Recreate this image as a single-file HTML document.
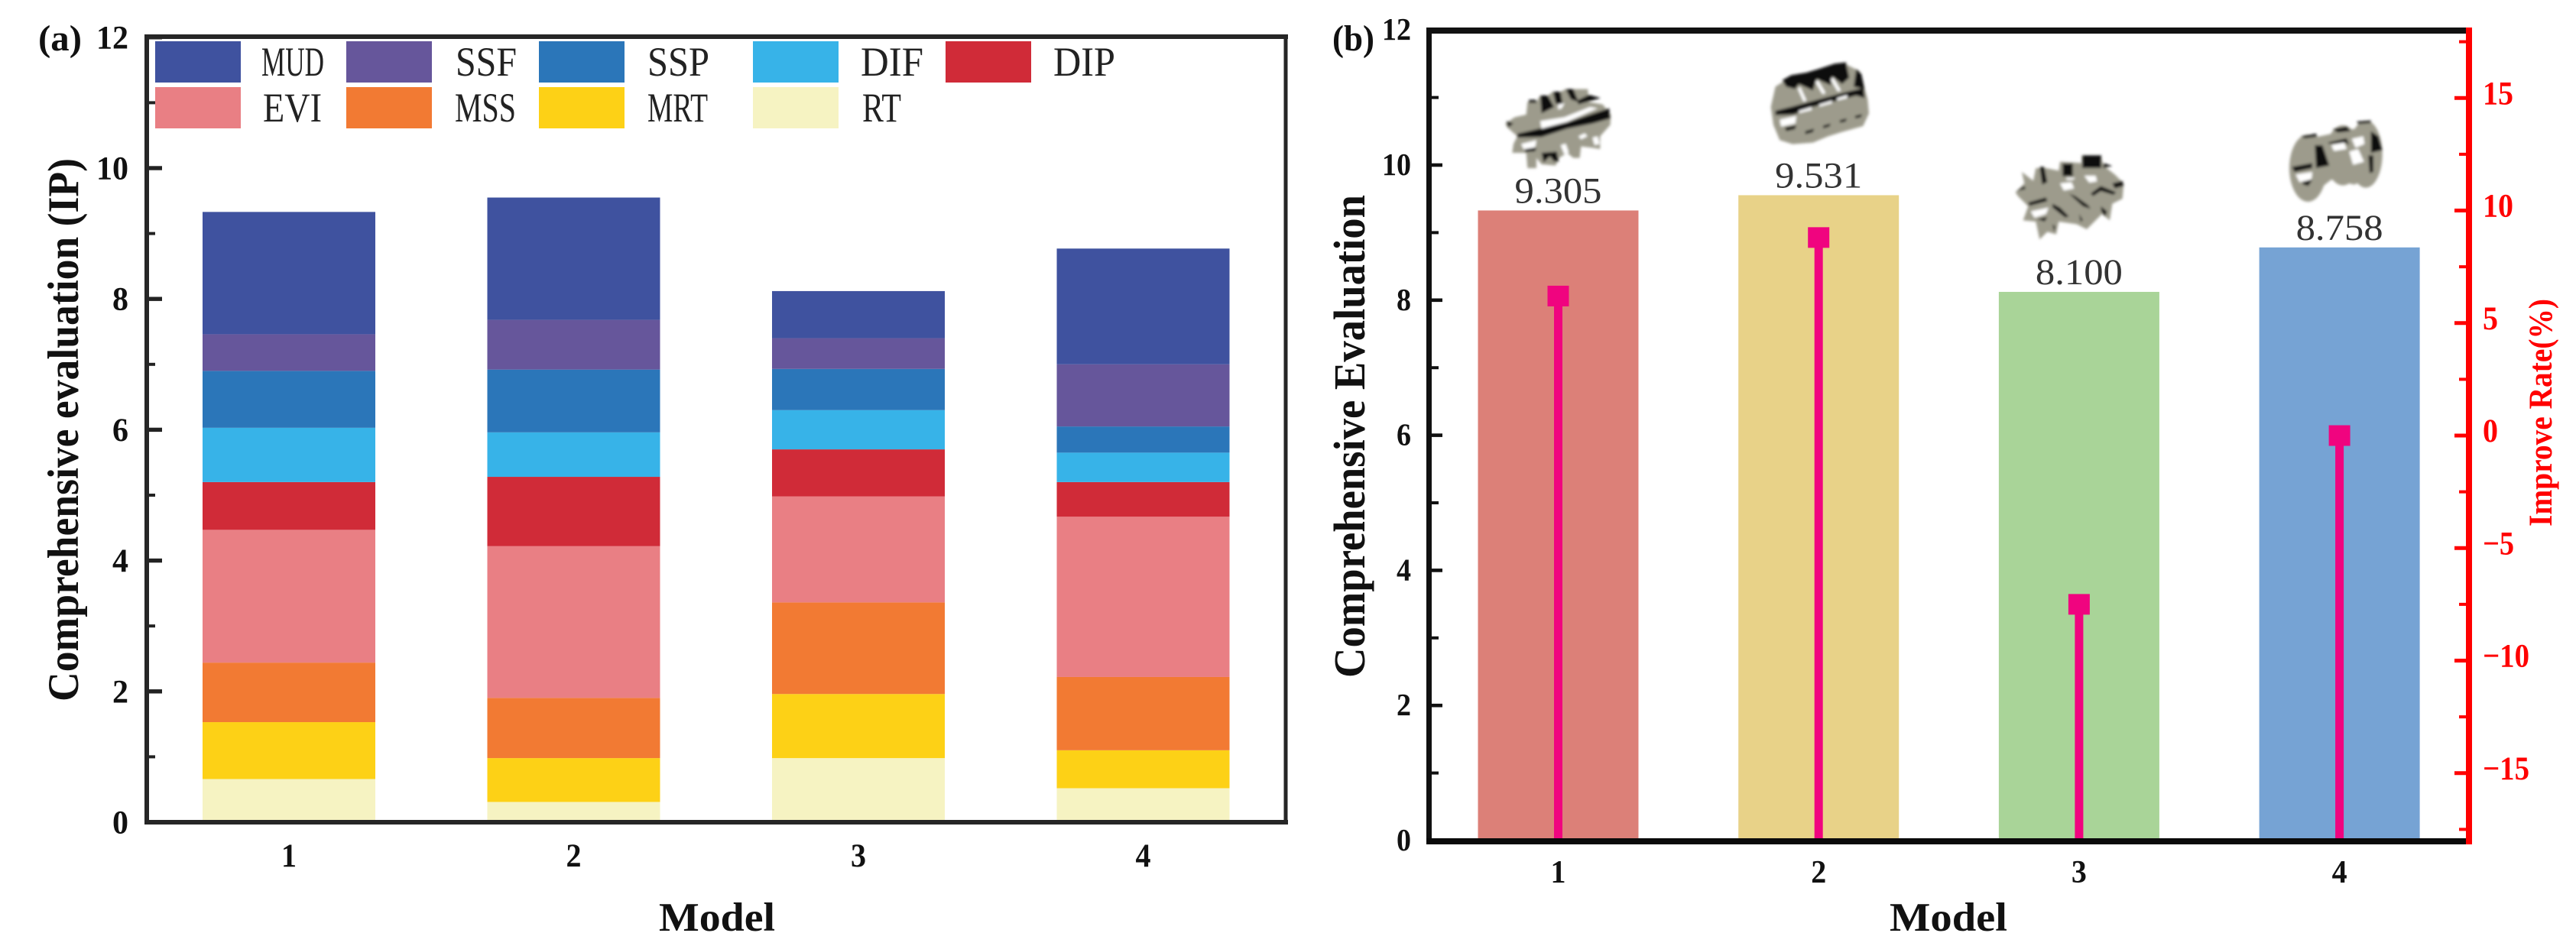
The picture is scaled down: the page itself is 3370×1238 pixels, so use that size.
<!DOCTYPE html>
<html lang="en">
<head>
<meta charset="utf-8">
<title>Comprehensive evaluation by model</title>
<style>
html,body{margin:0;padding:0;background:#fff;width:3370px;height:1238px;overflow:hidden}
svg{display:block}
text{font-family:"Liberation Serif","DejaVu Serif",serif}
</style>
</head>
<body>
<svg id="figure" xmlns="http://www.w3.org/2000/svg" width="3370" height="1238" viewBox="0 0 3370 1238">
<defs><filter id="soft" x="-5%" y="-5%" width="110%" height="110%"><feGaussianBlur stdDeviation="5.5"/></filter></defs>
<g id="panelA"></g>
<g id="panelB"></g>

<g transform="translate(1950,100) scale(.3333)" filter="url(#soft)">
<path fill="#9d9b8c" d="M58 185 95 160 140 150 145 100 180 100 195 75 225 75 245 60 275 60 295 50 325 50 350 50 382 50 385 100 440 110 472 150 470 190 430 235 430 285 400 280 355 275 350 320 325 320 300 300 270 320 255 350 200 345 180 320 180 360 145 360 140 300 85 300 90 265 105 235 65 200Z"/>
<path fill="#0c0c0c" d="M105 225 190 205 300 180 465 125 470 165 400 185 300 205 200 238 105 240Z"/>
<path fill="#0c0c0c" d="M195 75h30l25 45-50 25zM245 60h30l10 60-30-15zM295 50h30l20 50-30-10zM385 72 432 85 345 110 340 95zM150 92h30v12h-30zM62 175l28 10-20 15zM135 285l45-6-5 15-40 3zM200 300l60-5 8 40-20-2-15-20-25 25z"/>
<path fill="#fff" d="M195 175 290 160 390 120 420 125 300 178 200 205ZM120 265 180 250 175 278 130 286ZM265 110l25-5-10 20-15 5z"/>
<path fill="#fff" d="M88 110l20-8 6 35-18 2zM345 235l25-12 10 12-25 12zM400 240l20-5 8 30-20 5zM275 270l20-6 12 35-18 6z"/>
</g>

<g transform="translate(2300,70) scale(.3333)" filter="url(#soft)">
<path fill="#9d9b8c" d="M50 210 68 130 100 110 340 40 400 70 430 180 435 235 412 285 330 308 275 325 215 350 135 356 85 340 60 280Z"/>
<path fill="#0b0b0b" d="M95 105 130 85 190 75 240 60 300 40 345 35 358 95 330 120 290 90 285 125 230 100 215 145 160 120 145 140 110 130ZM385 60 405 80 418 140 375 130Z"/>
<path fill="#0b0b0b" d="M68 225 135 208 220 185 350 150 415 135 418 175 385 165 350 175 290 190 215 210 140 240 68 242Z"/>
<path fill="#fff" d="M85 260 150 245 146 275 90 287ZM165 130l25 55-12 4-22-50zM235 105l30 50-12 5-28-48zM295 95l30 50-12 5-28-48zM160 225l50-15 0 12-50 12zM240 200l50-15 0 10-50 14zM310 175l40-12 0 12-40 10z"/>
<path fill="#0b0b0b" d="M105 290l45-8-5 15-35 8zM185 305l35-10-5 14-30 8zM255 283l30-8-5 12-25 7zM320 262l28-7-4 12-22 5zM380 245l28-7-4 12-22 5z"/>
</g>

<g transform="translate(2620,190) scale(.3333)" filter="url(#soft)">
<path fill="#9d9b8c" d="M50 185 85 150 75 105 120 140 130 90 170 90 220 100 225 65 310 70 310 40 385 40 395 80 440 115 475 150 470 210 430 230 420 295 390 270 330 330 290 310 220 300 210 350 175 340 145 370 130 300 80 295 100 240 60 200Z"/>
<path fill="#0b0b0b" d="M312 40h75v50h-75zM395 70l35 12-35 8zM235 72h40v50h-40zM145 85h18l12 60-20 10zM55 180l30-20 5 12zM100 225l70-20 5 15-70 18zM195 230l30 15 35 35-15 4-50-40zM260 190l25 10 50 35 10 15-30-10zM345 190l40-30 60 25-10 10-50-15-30 20zM430 150l40-10 5 20-35 10zM135 290l40-8-10 18zM300 270l15 25-10 5zM385 240l25 20-8 20-15-20zM195 310l12 10-5 20z"/>
<path fill="#fff" d="M225 150 270 145 280 170 240 178ZM110 260 180 245 170 270 125 285ZM250 128h35l-10 8h-25zM320 120h45l5 22-30 5z"/>
</g>

<g transform="translate(2970,145) scale(.3333)" filter="url(#soft)">
<path fill="#9d9b8c" d="M150 110 380 60 400 260 330 290 240 270 150 340Z"/>
<ellipse fill="#9d9b8c" cx="148" cy="225" rx="73" ry="132"/>
<ellipse fill="#9d9b8c" cx="285" cy="175" rx="68" ry="118"/>
<ellipse fill="#9d9b8c" cx="375" cy="170" rx="65" ry="132"/>
<path fill="#0b0b0b" d="M120 100 180 90 185 102 135 108ZM245 72 300 62 315 80 265 85ZM340 42 395 38 395 48 345 52ZM85 220 165 205 165 225 95 240ZM175 135 205 135 232 215 180 225ZM225 125 300 108 310 135 295 125 235 130ZM395 80 425 100 440 155 395 165ZM385 175 405 175 405 240 390 245ZM125 280 165 270 150 295 130 290Z"/>
<path fill="#fff" d="M100 250 165 240 162 268 115 280ZM240 135 290 125 300 150 250 158ZM310 160 345 150 368 200 325 212ZM320 110 365 100 370 130 335 145Z"/>
</g>
<script>
const modelCategories = ['1', '2', '3', '4'];
const stackRT = [0.66, 0.31, 0.98, 0.52];
const stackMRT = [0.87, 0.67, 0.98, 0.58];
const stackMSS = [0.91, 0.92, 1.40, 1.12];
const stackEVI = [2.03, 2.32, 1.62, 2.45];
const stackDIP = [0.73, 1.06, 0.72, 0.53];
const stackDIF = [0.83, 0.68, 0.60, 0.45];
const stackSSP = [0.87, 0.96, 0.63, 0.40];
const stackSSF = [0.56, 0.76, 0.47, 0.95];
const stackMUD = [1.87, 1.87, 0.72, 1.77];
const totalScores = [9.305, 9.531, 8.100, 8.758];
const improveRates = [6.2, 8.8, -7.5, 0];
const leftTicks = [0, 2, 4, 6, 8, 10, 12];
const leftMinorTicks = [1, 3, 5, 7, 9, 11];
const rateTicks = [15, 10, 5, 0, -5, -10, -15];
const rateMinorTicks = [17.5, 12.5, 7.5, 2.5, -2.5, -7.5, -12.5, -17.5];

const stackSeries = [stackRT, stackMRT, stackMSS, stackEVI, stackDIP, stackDIF, stackSSP, stackSSF, stackMUD];
const stackNames = ['RT', 'MRT', 'MSS', 'EVI', 'DIP', 'DIF', 'SSP', 'SSF', 'MUD'];
const stackColors = ['#f6f3c2', '#fdd116', '#f27a33', '#e97f84', '#d02b38', '#37b3e8', '#2b76b9', '#66569b', '#3f529f'];
const scoreColors = ['#dc8078', '#e8d288', '#a9d498', '#76a3d4'];

const axisA = v => 1076 - 85.6 * v;
const catA = i => 378 + 372.5 * i;
const axisB = v => 1100 - 88.4 * v;
const axisRate = v => 570 - 29.45 * v;
const catB = i => 2038.5 + 340.7 * i;

const NS = 'http://www.w3.org/2000/svg';
const panelA = document.getElementById('panelA');
const panelB = document.getElementById('panelB');

function shape(parent, tag, name, attrs) {
  const el = document.createElementNS(NS, tag);
  
  
  for (const k in attrs) el.setAttribute(k, attrs[k]);
  parent.appendChild(el);
  return el;
}
function rect(parent, name, x, y, w, h, fill) {
  return shape(parent, 'rect', name, { x: x, y: y, width: w, height: h, fill: fill });
}
function label(parent, name, str, x, y, size, weight, width, fill) {
  const el = shape(parent, 'text', name, { x: x, y: y, 'font-size': size, 'font-weight': weight, fill: fill, textLength: width, lengthAdjust: 'spacingAndGlyphs' });
  el.textContent = str;
  return el;
}
function vlabel(parent, name, str, x, yBottom, size, weight, length, fill) {
  const el = shape(parent, 'text', name, { transform: 'translate(' + x + ',' + yBottom + ') rotate(-90)', 'font-size': size, 'font-weight': weight, fill: fill, textLength: length, lengthAdjust: 'spacingAndGlyphs' });
  el.textContent = str;
  return el;
}

/* Panel (a): stacked bars */
modelCategories.forEach((cat, i) => {
  let base = 0;
  stackSeries.forEach((series, s) => {
    const top = base + series[i];
    rect(panelA, 'bar-' + stackNames[s].toLowerCase() + '-model-' + cat, catA(i) - 113, axisA(top), 226, axisA(base) - axisA(top), stackColors[s]);
    base = top;
  });
  label(panelA, 'x-tick-label-a-' + cat, cat, catA(i) - 10, 1134, 43, 'bold', 20, '#111');
});
leftTicks.forEach(v => {
  rect(panelA, 'y-tick-a-' + v, 192, axisA(v) - 2.7, 20, 5.4, '#222');
  const t = String(v);
  label(panelA, 'y-tick-label-a-' + v, t, 168 - t.length * 21, axisA(v) + 14.5, 43, 'bold', t.length * 21, '#111');
});
leftMinorTicks.forEach(v => {
  rect(panelA, 'y-minor-tick-a-' + v, 192, axisA(v) - 2, 11, 4, '#222');
});
rect(panelA, 'left-axis-a', 189, 45, 6, 1034, '#262626');
rect(panelA, 'top-axis-a', 189, 45, 1496, 6, '#262626');
rect(panelA, 'right-axis-a', 1679.5, 45, 5, 1034, '#262626');
rect(panelA, 'bottom-axis-a', 189, 1073, 1496, 6, '#262626');

const legendRows = [
  { y: 54, base: 99, items: [['MUD', 8, 342, 82], ['SSF', 7, 596, 80], ['SSP', 6, 847, 81], ['DIF', 5, 1126, 82], ['DIP', 4, 1378, 81]] },
  { y: 114, base: 159, items: [['EVI', 3, 344, 77], ['MSS', 2, 595, 80], ['MRT', 1, 847, 79], ['RT', 0, 1128, 51]] }
];
const legendColumns = [203, 453, 705, 985, 1237];
legendRows.forEach(row => {
  row.items.forEach((item, c) => {
    rect(panelA, 'legend-swatch-' + item[0].toLowerCase(), legendColumns[c], row.y, 112, 54, stackColors[item[1]]);
    label(panelA, 'legend-label-' + item[0].toLowerCase(), item[0], item[2], row.base, 54, 'normal', item[3], '#222');
  });
});
label(panelA, 'panel-a-label', '(a)', 50, 66, 48, 'bold', 57, '#111');
vlabel(panelA, 'y-axis-title-a', 'Comprehensive evaluation (IP)', 102, 918, 57, 'bold', 711, '#111');
label(panelA, 'x-axis-title-a', 'Model', 862, 1218, 53, 'bold', 152, '#111');

/* Panel (b): scores with improve-rate stems */
modelCategories.forEach((cat, i) => {
  const top = axisB(totalScores[i]) - 2;
  rect(panelB, 'score-bar-model-' + cat, catB(i) - 105, top, 210, 1100 - top, scoreColors[i]);
  label(panelB, 'score-value-model-' + cat, totalScores[i].toFixed(3), catB(i) - 57, top - 10, 48, 'normal', 114, '#333');
  label(panelB, 'x-tick-label-b-' + cat, cat, catB(i) - 10, 1155, 42, 'bold', 20, '#111');
});
leftTicks.forEach(v => {
  rect(panelB, 'y-tick-b-' + v, 1870, axisB(v) - 2.3, 17, 4.6, '#111');
  const t = String(v);
  label(panelB, 'y-tick-label-b-' + v, t, 1846 - t.length * 19, axisB(v) + 13, 41, 'bold', t.length * 19, '#111');
});
leftMinorTicks.forEach(v => {
  rect(panelB, 'y-minor-tick-b-' + v, 1870, axisB(v) - 2, 12, 4, '#111');
});
modelCategories.forEach((cat, i) => {
  rect(panelB, 'improve-stem-model-' + cat, catB(i) - 5.5, axisRate(improveRates[i]), 11, 1097 - axisRate(improveRates[i]), '#f0047f');
  rect(panelB, 'improve-marker-model-' + cat, catB(i) - 14, axisRate(improveRates[i]) - 13.5, 28, 27, '#f0047f');
});
rect(panelB, 'left-axis-b', 1866, 36, 7, 1069, '#111');
rect(panelB, 'top-axis-b', 1866, 36, 1362, 8, '#111');
rect(panelB, 'bottom-axis-b', 1866, 1097, 1362, 8, '#0a0a0a');
rect(panelB, 'right-axis-b', 3226, 36, 8, 1069, '#ff0000');
rateTicks.forEach(v => {
  rect(panelB, 'rate-tick-' + v, 3211, axisRate(v) - 2.5, 17, 5, '#ff0000');
  const t = v < 0 ? '\u2212' + (-v) : String(v);
  const w = (v < 0 ? 21 : 0) + String(Math.abs(v)).length * 20;
  label(panelB, 'rate-tick-label-' + v, t, 3248, axisRate(v) + 8, 43, 'bold', w, '#ff0000');
});
rateMinorTicks.forEach(v => {
  rect(panelB, 'rate-minor-tick-' + v, 3217, axisRate(v) - 2, 11, 4, '#ff0000');
});
label(panelB, 'panel-b-label', '(b)', 1743, 66, 48, 'bold', 55, '#111');
vlabel(panelB, 'y-axis-title-b', 'Comprehensive Evaluation', 1785, 887, 58, 'bold', 632, '#111');
vlabel(panelB, 'rate-axis-title', 'Improve Rate(%)', 3338, 689, 43, 'bold', 298, '#ff0000');
label(panelB, 'x-axis-title-b', 'Model', 2472, 1218, 53, 'bold', 154, '#111');
</script>
</svg>
</body>
</html>
